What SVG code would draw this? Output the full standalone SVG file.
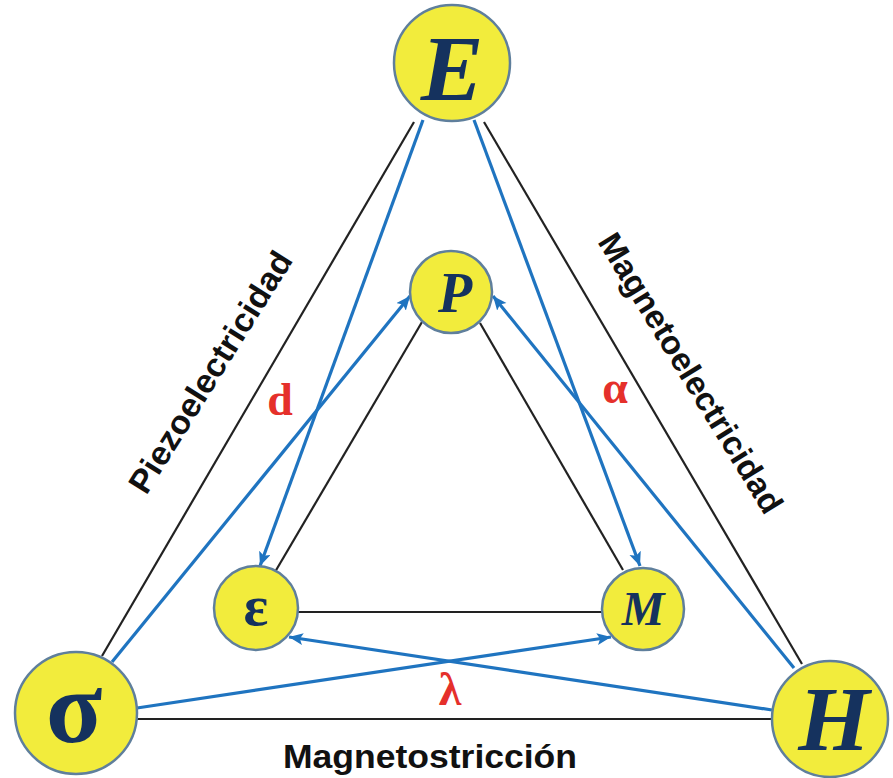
<svg xmlns="http://www.w3.org/2000/svg" width="893" height="778" viewBox="0 0 893 778">
<style>
.node circle{fill:#f2ec3c;stroke:#5f7f9c;stroke-width:2.5}
.sym{font-family:"Liberation Serif","DejaVu Serif",serif;font-weight:bold;fill:#15325e;text-anchor:middle}
.it{font-style:italic}
.blk{stroke:#222;stroke-width:2.2;fill:none}
.blu{stroke:#1f74c0;stroke-width:3.2;fill:none;marker-end:url(#ah)}
.red{font-family:"Liberation Serif","DejaVu Serif",serif;font-weight:bold;fill:#e5302b;text-anchor:middle;font-size:46px}
.lbl{font-family:"Liberation Sans",Arial,sans-serif;font-weight:bold;fill:#111;text-anchor:middle;font-size:33px}
</style>
<defs>
<marker id="ah" markerUnits="userSpaceOnUse" markerWidth="16" markerHeight="14" refX="14" refY="6" orient="auto">
<path d="M0,0 L14,6 L0,12 L3,6 Z" fill="#1f74c0"/>
</marker>
</defs>
<rect width="893" height="778" fill="#fff"/>
<g id="connectors">
<line class="blk" x1="414" y1="122" x2="102" y2="656"/>
<line class="blk" x1="484" y1="122" x2="802" y2="664"/>
<line class="blk" x1="136" y1="719" x2="773" y2="719"/>
<line class="blk" x1="422" y1="322" x2="275" y2="572"/>
<line class="blk" x1="480" y1="323" x2="623" y2="570"/>
<line class="blk" x1="298" y1="612" x2="602" y2="612"/>
<line class="blu" x1="423" y1="120" x2="260" y2="566"/>
<line class="blu" x1="474" y1="120" x2="640" y2="566"/>
<line class="blu" x1="112" y1="662" x2="410" y2="296"/>
<line class="blu" x1="794" y1="668" x2="493" y2="296"/>
<line class="blu" x1="137" y1="708" x2="611" y2="637"/>
<line class="blu" x1="772" y1="710" x2="289" y2="637"/>
</g>
<g id="E" class="node"><circle cx="452" cy="63" r="58"/><text class="sym it" x="452" y="100" font-size="94">E</text></g>
<g id="P" class="node"><circle cx="451" cy="292" r="41"/><text class="sym it" x="455" y="312" font-size="56">P</text></g>
<g id="sigma" class="node"><circle cx="76" cy="713" r="61"/><text class="sym" x="74" y="742" font-size="104">σ</text></g>
<g id="H" class="node"><circle cx="830" cy="719" r="58"/><text class="sym it" x="834" y="750" font-size="92">H</text></g>
<g id="epsilon" class="node"><circle cx="256" cy="608" r="42"/><text class="sym" x="256" y="625" font-size="58">ε</text></g>
<g id="M" class="node"><circle cx="643" cy="609" r="41"/><text class="sym it" x="643" y="625" font-size="48">M</text></g>
<g id="labels">
<text class="red" x="280" y="415">d</text>
<text class="red" x="615" y="403">α</text>
<text class="red" x="450" y="705">λ</text>
<text class="lbl" transform="translate(220,378) rotate(-58)" textLength="278" lengthAdjust="spacingAndGlyphs">Piezoelectricidad</text>
<text class="lbl" transform="translate(681,379) rotate(58.5)" textLength="322" lengthAdjust="spacingAndGlyphs">Magnetoelectricidad</text>
<text class="lbl" x="430" y="768" textLength="294" lengthAdjust="spacingAndGlyphs">Magnetostricción</text>
</g>
</svg>
